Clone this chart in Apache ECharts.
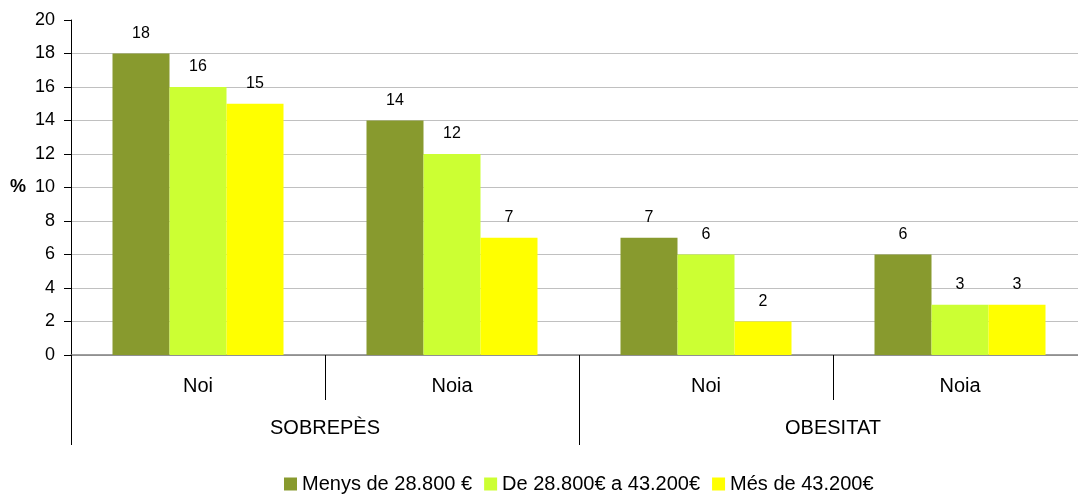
<!DOCTYPE html>
<html>
<head>
<meta charset="utf-8">
<script src="https://cdn.jsdelivr.net/npm/echarts@6/dist/echarts.min.js"></script>
<style>
  html, body { margin: 0; padding: 0; background: #fff; overflow: hidden; }
  #main { width: 1100px; height: 496px; }
</style>
</head>
<body>
<div id="main"></div>
<script>
var categories = ['Noi', 'Noia', 'Noi', 'Noia'];
var groups = ['SOBREPÈS', 'OBESITAT'];
var seriesNames = ['Menys de 28.800 €', 'De 28.800€ a 43.200€', 'Més de 43.200€'];
var lowIncome = [18, 14, 7, 6];
var midIncome = [16, 12, 6, 3];
var highIncome = [15, 7, 2, 3];
var colors = ['#889a2e', '#ccff33', '#ffff00'];

var font = 'Liberation Sans, Arial, sans-serif';

var makeBar = function (name, data, color) {
    return {
        name: name,
        type: 'bar',
        data: data,
        barWidth: 57,
        barGap: '0%',
        itemStyle: { color: color },
        label: {
            show: true,
            position: 'top',
            distance: 12,
            color: '#000',
            fontFamily: font,
            fontSize: 16
        }
    };
};

// no gridline on the top value (20)
var gridColors = [];
for (var i = 0; i < 11; i++) gridColors.push(i === 10 ? 'transparent' : '#c0c0c0');

// div is a little wider than the window: the plot runs past the right edge
var chart = echarts.init(document.getElementById('main'));
chart.setOption({
    animation: false,
    color: colors,
    grid: { left: 71, top: 20, width: 1016, height: 335, containLabel: false },
    legend: {
        top: 469,
        left: 279,
        itemWidth: 13,
        itemHeight: 13,
        itemGap: 12,
        icon: 'rect',
        textStyle: { fontFamily: font, fontSize: 20, color: '#000' },
        data: seriesNames
    },
    xAxis: [{
        type: 'category',
        data: categories,
        position: 'bottom',
        axisLine: { show: true, lineStyle: { color: '#808080', width: 1.5 } },
        axisTick: { show: true, interval: 0, length: 45, lineStyle: { color: '#000' } },
        axisLabel: { margin: 21, color: '#000', fontFamily: font, fontSize: 20 }
    }, {
        type: 'category',
        data: groups,
        position: 'bottom',
        axisLine: { show: false },
        axisTick: { show: true, interval: 0, length: 90, lineStyle: { color: '#000' } },
        axisLabel: { margin: 63, color: '#000', fontFamily: font, fontSize: 20 }
    }],
    yAxis: {
        type: 'value',
        min: 0,
        max: 20,
        interval: 2,
        name: '%',
        nameLocation: 'middle',
        nameRotate: 0,
        nameGap: 45,
        nameTextStyle: { fontFamily: font, fontSize: 18, fontWeight: 'bold', color: '#000' },
        axisLine: { show: true, lineStyle: { color: '#000' } },
        axisTick: { show: true, length: 7, lineStyle: { color: '#000' } },
        axisLabel: { margin: 16, color: '#000', fontFamily: font, fontSize: 18 },
        splitLine: { show: true, lineStyle: { color: gridColors } }
    },
    series: [
        makeBar(seriesNames[0], lowIncome, colors[0]),
        makeBar(seriesNames[1], midIncome, colors[1]),
        makeBar(seriesNames[2], highIncome, colors[2])
    ]
});
</script>
</body>
</html>
